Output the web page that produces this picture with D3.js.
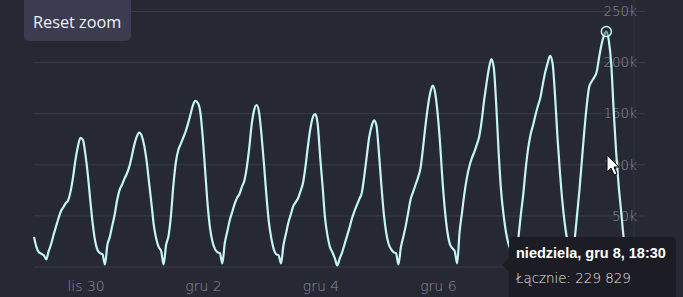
<!DOCTYPE html>
<html>
<head>
<meta charset="utf-8">
<script src="https://cdn.jsdelivr.net/npm/d3@7"></script>
<style>
    html, body { margin: 0; padding: 0; background: #262834; overflow: hidden; }
    svg { display: block; }
</style>
</head>
<body>
<div class="chartPlaceholder"></div>
<script>
const WIDTH = 683;
const HEIGHT = 297;
const PLOT = { LEFT: 34, RIGHT: 634, TOP: 11, BOTTOM: 266.5, GRID_RIGHT: 645 };

// hourly samples (thousands of users), first sample lis 29 00:30
const START = Date.UTC(2024, 10, 29, 0, 30);
const HOURS_SHOWN = 245.3;
const day0 = [29, 19, 14, 12.5, 11, 7, 15, 22, 31, 39, 47, 54, 58, 62, 65, 74, 88, 105, 118, 126, 124, 110, 90, 65];
const day1 = [42, 25, 16, 13, 12, 2, 21, 29, 40, 51, 65, 75, 80, 86, 91, 98, 108, 119, 127, 131, 128, 119, 104, 83];
const day2 = [62, 40, 27, 19, 15, 2, 21, 30, 50, 80, 102, 114, 120, 126, 132, 140, 149, 158, 162, 160, 151, 126, 93, 60];
const day3 = [37, 24, 17, 14, 13, 3, 23, 34, 45, 53, 61, 67, 71, 78, 84, 97, 116, 139, 153, 158, 151, 129, 101, 70];
const day4 = [44, 28, 17, 12, 11, 3, 21, 32, 43, 51, 59, 63, 67, 74, 82, 98, 118, 135, 146, 149, 139, 107, 78, 47];
const day5 = [30, 19, 14, 8, 1, 8, 14, 22, 30, 38, 47, 54, 60, 66, 72, 88, 107, 126, 137, 143, 138, 112, 80, 52];
const day6 = [33, 22, 17, 14, 13, 2, 19, 29, 40, 53, 66, 73, 80, 87, 96, 115, 137, 156, 170, 177, 170, 150, 121, 84];
const day7 = [55, 34, 22, 18, 15, 3, 34, 53, 72, 87, 98, 106, 112, 119, 127, 142, 162, 179, 194, 203, 194, 157, 110, 73];
const day8 = [50, 33, 22, 16, 14, 3, 27, 50, 70, 95, 115, 129, 138, 148, 157, 165, 178, 190, 199, 206, 199, 168, 127, 93];
const day9 = [64, 42, 26, 16, 4, 25, 50, 75, 104, 133, 158, 176, 181, 185, 190, 204, 217, 226, 229.829, 221, 198, 152, 112, 80];
const day10 = [55, 30, 16, 12, 10];
const usersK = [].concat(day0, day1, day2, day3, day4, day5, day6, day7, day8, day9, day10);

const yTicks = [0, 50, 100, 150, 200, 250];
const xTickDays = [Date.UTC(2024, 10, 30), Date.UTC(2024, 11, 2), Date.UTC(2024, 11, 4), Date.UTC(2024, 11, 6), Date.UTC(2024, 11, 8)];
const AXIS_SHIFT_H = 2.4;
const MONTHS = ['sty', 'lut', 'mar', 'kwi', 'maj', 'cze', 'lip', 'sie', 'wrz', 'paź', 'lis', 'gru'];
const WEEKDAYS = ['niedziela', 'poniedziałek', 'wtorek', 'środa', 'czwartek', 'piątek', 'sobota'];

const HOUR = 3600 * 1000;
let data = usersK.map((v, i) => ({ date: new Date(START + i * HOUR), value: v }));

let svg = d3
    .select('.chartPlaceholder')
    .append('svg')
    .attr('width', WIDTH)
    .attr('height', HEIGHT);

// 1. scales
let xScale = d3
    .scaleUtc()
    .domain([new Date(START), new Date(START + HOURS_SHOWN * HOUR)])
    .range([PLOT.LEFT, PLOT.RIGHT]);

// axis labels sit a couple of hours off the data (timezone of the original chart)
let xAxisScale = d3
    .scaleUtc()
    .domain(xScale.domain().map(d => new Date(+d + AXIS_SHIFT_H * HOUR)))
    .range(xScale.range());

let yScale = d3.scaleLinear().domain([0, 250]).range([PLOT.BOTTOM, PLOT.TOP]);

// 2. grid + y labels (the 0 label sits under the tooltip, so it is left blank)
let yAxis = d3
    .axisRight(yScale)
    .tickValues(yTicks)
    .tickSize(PLOT.GRID_RIGHT - PLOT.LEFT)
    .tickFormat(d => d === 0 ? '' : d + 'k');

let yG = svg
    .append('g')
    .attr('id', 'y-axis')
    .attr('transform', `translate(${PLOT.LEFT}, 0)`)
    .call(yAxis);

yG.select('.domain').remove();
yG.selectAll('line').attr('stroke', '#393b48').attr('stroke-width', 1);
yG.selectAll('text')
    .attr('x', 603)
    .attr('dy', '0.35em')
    .attr('text-anchor', 'end')
    .attr('fill', '#8e909b')
    .style('font-family', 'DejaVu Sans')
    .style('font-weight', 200)
    .style('font-size', '13.5px');

svg
    .append('line')
    .attr('x1', PLOT.RIGHT).attr('x2', PLOT.RIGHT)
    .attr('y1', 0).attr('y2', HEIGHT)
    .attr('stroke', '#30323e');

// 3. x labels
let xAxis = d3
    .axisBottom(xAxisScale)
    .tickValues(xTickDays.map(d => new Date(d)))
    .tickSize(0)
    .tickFormat(d => MONTHS[d.getUTCMonth()] + ' ' + d.getUTCDate());

let xG = svg
    .append('g')
    .attr('id', 'x-axis')
    .attr('transform', `translate(0, ${PLOT.BOTTOM + 12})`)
    .call(xAxis);

xG.select('.domain').remove();
xG.selectAll('text')
    .attr('fill', '#8e909b')
    .style('font-family', 'DejaVu Sans')
    .style('font-weight', 200)
    .style('font-size', '14px');

// 4. series
let line = d3
    .line()
    .x(d => xScale(d.date))
    .y(d => yScale(d.value))
    .curve(d3.curveMonotoneX);

svg
    .append('path')
    .datum(data)
    .attr('d', line)
    .attr('fill', 'none')
    .attr('stroke', '#c4f5f5')
    .attr('stroke-width', 2.2)
    .attr('stroke-linejoin', 'round');

// hovered point = max
let peak = data.reduce((a, b) => (b.value > a.value ? b : a));

svg
    .append('circle')
    .attr('cx', xScale(peak.date))
    .attr('cy', yScale(peak.value))
    .attr('r', 5)
    .attr('fill', '#262834')
    .attr('fill-opacity', 0.4)
    .attr('stroke', '#c4f5f5')
    .attr('stroke-width', 1.5);

// 5. tooltip
let plFormat = d3.formatLocale({ decimal: ',', thousands: ' ', grouping: [3], currency: ['', ' zł'] }).format(',.0f');
let pd = peak.date;
let header = `${WEEKDAYS[pd.getUTCDay()]}, ${MONTHS[pd.getUTCMonth()]} ${pd.getUTCDate()}, ` +
    `${d3.format('02')(pd.getUTCHours())}:${d3.format('02')(pd.getUTCMinutes())}`;

let tip = svg.append('g').attr('id', 'tooltip');

tip.append('rect')
    .attr('x', 509).attr('y', 237)
    .attr('width', 167).attr('height', 64)
    .attr('rx', 5)
    .attr('fill', '#1c1d24');

tip.append('path')
    .attr('d', 'M509,258 L502,265 L509,272 Z')
    .attr('fill', '#1c1d24');

tip.append('text')
    .attr('x', 516).attr('y', 258)
    .attr('fill', '#ffffff')
    .style('font-family', 'Liberation Sans, Arial, sans-serif')
    .style('font-weight', 'bold')
    .style('font-size', '14.5px')
    .text(header);

tip.append('text')
    .attr('x', 516).attr('y', 283)
    .attr('fill', '#e6e6e6')
    .style('font-family', 'DejaVu Sans')
    .style('font-weight', 200)
    .style('font-size', '13.4px')
    .text('Łącznie: ' + plFormat(peak.value * 1000));

// 6. misc: reset button and mouse pointer
let btn = svg.append('g').attr('id', 'reset-zoom');

btn.append('rect')
    .attr('x', 24).attr('y', -6)
    .attr('width', 107).attr('height', 47)
    .attr('rx', 5)
    .attr('fill', '#3b3c50');

btn.append('text')
    .attr('x', 33).attr('y', 28)
    .attr('fill', '#f0f0f4')
    .style('font-family', 'Open Sans')
    .style('font-size', '16.3px')
    .text('Reset zoom');

svg
    .append('path')
    .attr('d', 'M0,0 L0,17 L4,13 L7,20 L10,19 L7,12 L12,12 Z')
    .attr('transform', 'translate(607, 155)')
    .attr('fill', '#ffffff')
    .attr('stroke', '#000000')
    .attr('stroke-width', 1);
</script>
</body>
</html>
